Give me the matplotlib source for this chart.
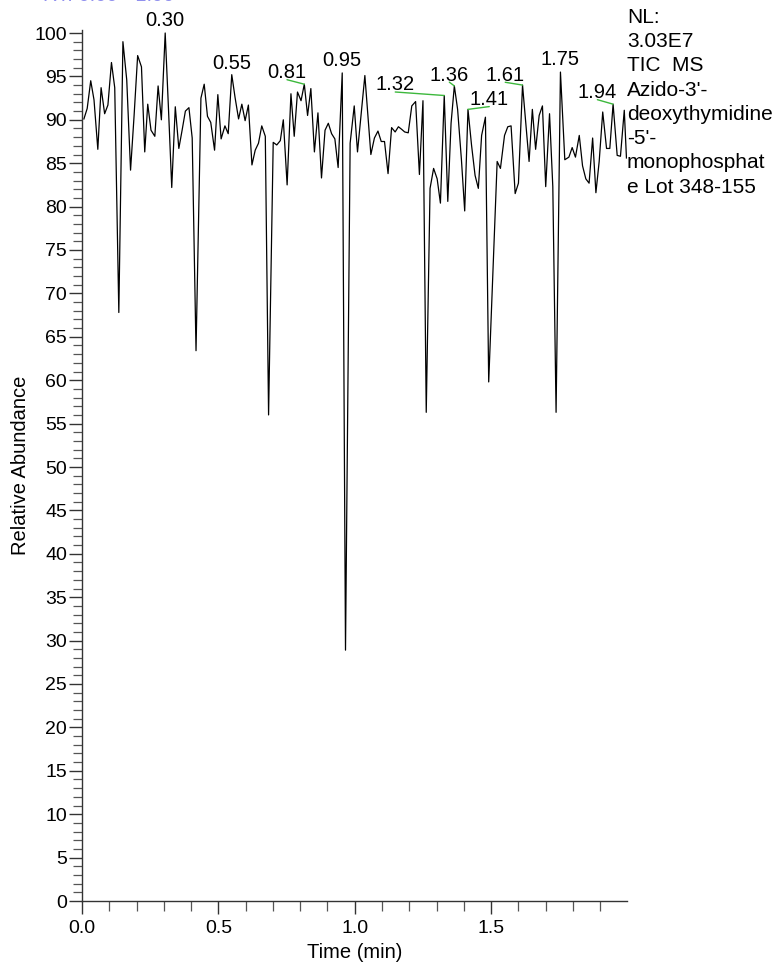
import numpy as np
import matplotlib
matplotlib.use("Agg")
import matplotlib.pyplot as plt
from matplotlib.ticker import MultipleLocator

plt.rcParams["font.family"] = ["Liberation Sans", "DejaVu Sans"]

# TIC trace (time in min, relative abundance in %)
time_min = [
    0.007, 0.019, 0.032, 0.044, 0.058, 0.070, 0.083, 0.095, 0.108, 0.120,
    0.135, 0.150, 0.164, 0.178, 0.191, 0.204, 0.218, 0.230, 0.241, 0.253,
    0.267, 0.279, 0.291, 0.305, 0.317, 0.329, 0.342, 0.355, 0.367, 0.379,
    0.392, 0.404, 0.418, 0.436, 0.448, 0.460, 0.472, 0.486, 0.498, 0.510,
    0.524, 0.536, 0.549, 0.561, 0.574, 0.586, 0.598, 0.610, 0.623, 0.635,
    0.647, 0.659, 0.672, 0.684, 0.701, 0.714, 0.727, 0.738, 0.752, 0.766,
    0.778, 0.790, 0.803, 0.815, 0.827, 0.839, 0.852, 0.865, 0.878, 0.891,
    0.903, 0.915, 0.927, 0.939, 0.954, 0.966, 0.983, 0.998, 1.010, 1.037,
    1.059, 1.072, 1.085, 1.097, 1.109, 1.122, 1.135, 1.148, 1.160, 1.172,
    1.183, 1.196, 1.209, 1.223, 1.237, 1.250, 1.262, 1.276, 1.289, 1.302,
    1.314, 1.328, 1.341, 1.353, 1.365, 1.377, 1.391, 1.403, 1.415, 1.428,
    1.441, 1.453, 1.465, 1.479, 1.491, 1.522, 1.534, 1.549, 1.561, 1.573,
    1.588, 1.600, 1.615, 1.626, 1.639, 1.651, 1.663, 1.676, 1.688, 1.700,
    1.714, 1.726, 1.738, 1.754, 1.770, 1.785, 1.797, 1.809, 1.823, 1.835,
    1.847, 1.859, 1.872, 1.884, 1.896, 1.909, 1.923, 1.935, 1.947, 1.962,
    1.974, 1.988, 1.996,
]
abundance = [
    90.1, 91.3, 94.5, 92.3, 86.6, 93.7, 90.7, 91.7, 96.6, 93.7,
    67.8, 99.0, 94.6, 84.2, 90.5, 97.4, 96.1, 86.3, 91.8, 88.8,
    88.1, 93.9, 90.0, 100.0, 91.3, 82.2, 91.5, 86.7, 88.8, 91.0,
    91.4, 87.9, 63.4, 92.5, 94.1, 90.4, 89.7, 86.5, 92.9, 87.8,
    89.3, 88.4, 95.2, 92.6, 90.1, 91.8, 89.9, 91.7, 84.8, 86.5,
    87.3, 89.3, 88.1, 56.0, 87.4, 87.1, 87.6, 90.0, 82.5, 93.0,
    88.1, 93.2, 92.2, 94.1, 90.5, 93.6, 86.3, 90.8, 83.3, 88.8,
    89.6, 88.4, 87.8, 84.5, 95.4, 28.9, 87.3, 91.6, 86.3, 95.1,
    86.0, 87.9, 88.7, 87.5, 87.5, 83.8, 89.1, 88.6, 89.2, 88.9,
    88.6, 88.5, 91.6, 92.1, 83.7, 92.2, 56.3, 82.1, 84.4, 83.2,
    80.4, 92.8, 80.6, 89.6, 93.9, 91.2, 85.4, 79.5, 91.2, 87.1,
    83.6, 82.1, 88.2, 90.3, 59.8, 85.2, 84.4, 88.2, 89.2, 89.3,
    81.5, 82.7, 94.0, 90.0, 85.2, 91.2, 86.6, 90.5, 91.6, 82.3,
    90.7, 82.3, 56.3, 95.5, 85.4, 85.7, 86.8, 85.7, 88.2, 84.7,
    83.2, 82.7, 87.9, 81.6, 85.2, 90.9, 86.7, 86.7, 91.8, 85.9,
    85.8, 91.1, 85.6,
]

# labelled peaks and where their labels sit (offset from the apex, px)
peak_labels = ["0.30", "0.55", "0.81", "0.95", "1.32", "1.36", "1.41", "1.61", "1.75", "1.94"]
label_dx = [0, 0, -17.3, 0, -49, -5, 21.3, -17.3, 0, -15.7]
label_dy = [6.7, 6.0, 6.0, 6.7, 5.0, 5.3, 4.3, 4.3, 6.7, 6.0]

info_lines = ["NL:", "3.03E7", "TIC  MS", "Azido-3'-", "deoxythymidine",
              "-5'-", "monophosphat", "e Lot 348-155"]

W, H, DPI = 776, 966, 100
PX = 72.0 / DPI  # px -> points
FS = 14.5

fig = plt.figure(figsize=(W / DPI, H / DPI), dpi=DPI)
ax = fig.add_axes([82 / W, 65 / H, 545 / W, (901 - 29.5) / H])

t = np.array(time_min)
a = np.array(abundance)
ax.plot(t, a, color="black", lw=0.9)

green = "#3cb83c"
for lab, dx, dy in zip(peak_labels, label_dx, label_dy):
    tl = float(lab)
    win = np.where(np.abs(t - tl) <= 0.015)[0]
    i = win[np.argmax(a[win])]
    ax.annotate(lab, xy=(t[i], a[i]), xytext=(dx * PX, dy * PX),
                textcoords="offset points", ha="center", va="baseline",
                fontsize=FS)
    if dx != 0:
        ax.annotate("", xy=(t[i], a[i]), xytext=(dx * PX, (dy - 1.5) * PX),
                    textcoords="offset points",
                    arrowprops=dict(arrowstyle="-", color=green, lw=1.0,
                                    shrinkA=0, shrinkB=0))

ax.set_xlim(0, 1.998)
ax.set_ylim(0, (901 - 29.5) / 8.68)
ax.xaxis.set_major_locator(MultipleLocator(0.5))
ax.xaxis.set_minor_locator(MultipleLocator(0.1))
ax.yaxis.set_major_locator(MultipleLocator(5))
ax.yaxis.set_minor_locator(MultipleLocator(1))
ax.xaxis.set_major_formatter(matplotlib.ticker.FormatStrFormatter("%.1f"))

for s in ("top", "right"):
    ax.spines[s].set_visible(False)
for s in ("left", "bottom"):
    ax.spines[s].set_color("#333333")
    ax.spines[s].set_linewidth(1.0)
ax.tick_params(which="major", direction="out", length=13 * PX, width=1.0,
               color="#333333", labelsize=FS - 0.5, pad=1.5)
ax.tick_params(which="minor", direction="out", length=9.5 * PX, width=0.9,
               color="#555555")
ax.tick_params(axis="x", which="major", pad=4)

ax.set_xlabel("Time (min)", fontsize=FS, labelpad=5)
ax.set_ylabel("Relative Abundance", fontsize=FS, labelpad=3)

# info block at the top right
for k, line in enumerate(info_lines):
    fig.text(627 / W, 1 - (22.7 + 24.3 * k) / H, line, ha="left",
             va="baseline", fontsize=15)

# header text cut by the top edge
fig.text(43 / W, 1 - 1 / H, "RT: 0.00 - 1.99", ha="left", va="baseline",
         fontsize=FS, color="#9090ee")

fig.savefig("out.png", dpi=DPI, facecolor="white")
